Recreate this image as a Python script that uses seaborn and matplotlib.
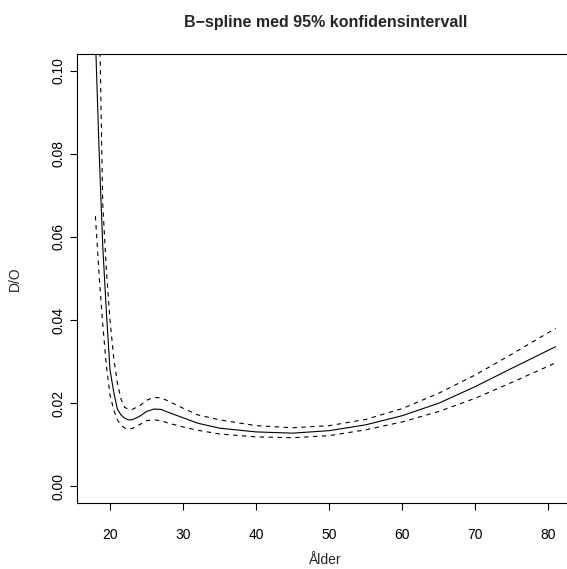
import numpy as np
import pandas as pd
import matplotlib
matplotlib.use("Agg")
import matplotlib.pyplot as plt
import seaborn as sns

# Data (Ålder vs D/O)
age = [18.0, 18.5, 19.0, 19.5, 20.0, 20.5, 21.0, 21.5, 22.0, 22.5, 23.0, 24.0, 25.0,
       26.0, 27.0, 28.0, 30.0, 32.0, 35.0, 40.0, 45.0, 50.0, 55.0, 60.0, 65.0,
       70.0, 75.0, 81.0]
fit = [0.108, 0.081, 0.058, 0.042, 0.028, 0.0228, 0.0186, 0.0172, 0.0164, 0.0160,
       0.0160, 0.0168, 0.0180, 0.0186, 0.0185, 0.0178, 0.0165, 0.0152, 0.0140,
       0.0131, 0.0128, 0.0134, 0.0148, 0.0170, 0.0200, 0.0240, 0.0284, 0.0336]
upper = [0.170, 0.118, 0.068, 0.052, 0.040, 0.031, 0.025, 0.0210, 0.0190, 0.0186,
         0.0185, 0.0193, 0.0207, 0.0214, 0.0213, 0.0205, 0.0188, 0.0172, 0.0160,
         0.0146, 0.0141, 0.0146, 0.0161, 0.0187, 0.0224, 0.0268, 0.0318, 0.0380]
lower = [0.065, 0.051, 0.039, 0.029, 0.022, 0.0185, 0.0160, 0.0148, 0.0140, 0.0138,
         0.0139, 0.0148, 0.0158, 0.0160, 0.0158, 0.0152, 0.0143, 0.0135, 0.0126,
         0.0119, 0.0117, 0.0122, 0.0136, 0.0155, 0.0180, 0.0212, 0.0250, 0.0297]

title = "B\u2212spline med 95% konfidensintervall"
xlabel = "Ålder"
ylabel = "D/O"
xticks = [20, 30, 40, 50, 60, 70, 80]
yticks = [0.00, 0.02, 0.04, 0.06, 0.08, 0.10]

df = pd.DataFrame({"age": age, "fit": fit, "upper": upper, "lower": lower})

sns.set_style("ticks")
plt.rcParams['font.family'] = ['Liberation Sans', 'DejaVu Sans']

W, H = 567, 569
fig = plt.figure(figsize=(W / 100, H / 100), dpi=100)
left_px, right_px, top_px, bottom_px = 77, 574, 54, 503
ax_w, ax_h = right_px - left_px, bottom_px - top_px
ax = fig.add_axes([left_px / W, 1 - bottom_px / H, ax_w / W, ax_h / H])

sns.lineplot(data=df, x="age", y="fit", ax=ax, color="black", linewidth=0.8,
             estimator=None, sort=False)
sns.lineplot(data=df, x="age", y="upper", ax=ax, color="black", linewidth=0.8,
             estimator=None, sort=False, linestyle=(0, (4, 4)))
sns.lineplot(data=df, x="age", y="lower", ax=ax, color="black", linewidth=0.8,
             estimator=None, sort=False, linestyle=(0, (4, 4)))

xr = max(age) - min(age)
ax.set_xlim(min(age) - 0.04 * xr, max(age) + 0.04 * xr)
ax.set_ylim(-0.004, 0.104)
ax.set_xticks(xticks)
ax.set_xticklabels([str(t) for t in xticks])
ax.set_yticks(yticks)
ax.set_yticklabels([f"{t:.2f}" for t in yticks], rotation=90, va="center")

for s in ax.spines.values():
    s.set_linewidth(0.8)
    s.set_color("black")
ax.tick_params(direction="out", length=5, width=0.8, colors="black",
               labelsize=10)
ax.tick_params(axis="x", pad=13)
ax.tick_params(axis="y", pad=3)

ax.set_xlabel(xlabel, fontsize=10)
ax.set_ylabel(ylabel, fontsize=10)
ax.xaxis.set_label_coords(0.5, -(560 - bottom_px) / ax_h)
ax.yaxis.set_label_coords(-(left_px - 15) / ax_w, 0.5)
ax.xaxis.label.set_va("center")
ax.yaxis.label.set_va("center")
fig.text((left_px + right_px) / 2 / W, 1 - 22 / H, title, ha="center", va="center",
         fontsize=11.5, fontweight="bold")

fig.savefig("out.png", dpi=100)
